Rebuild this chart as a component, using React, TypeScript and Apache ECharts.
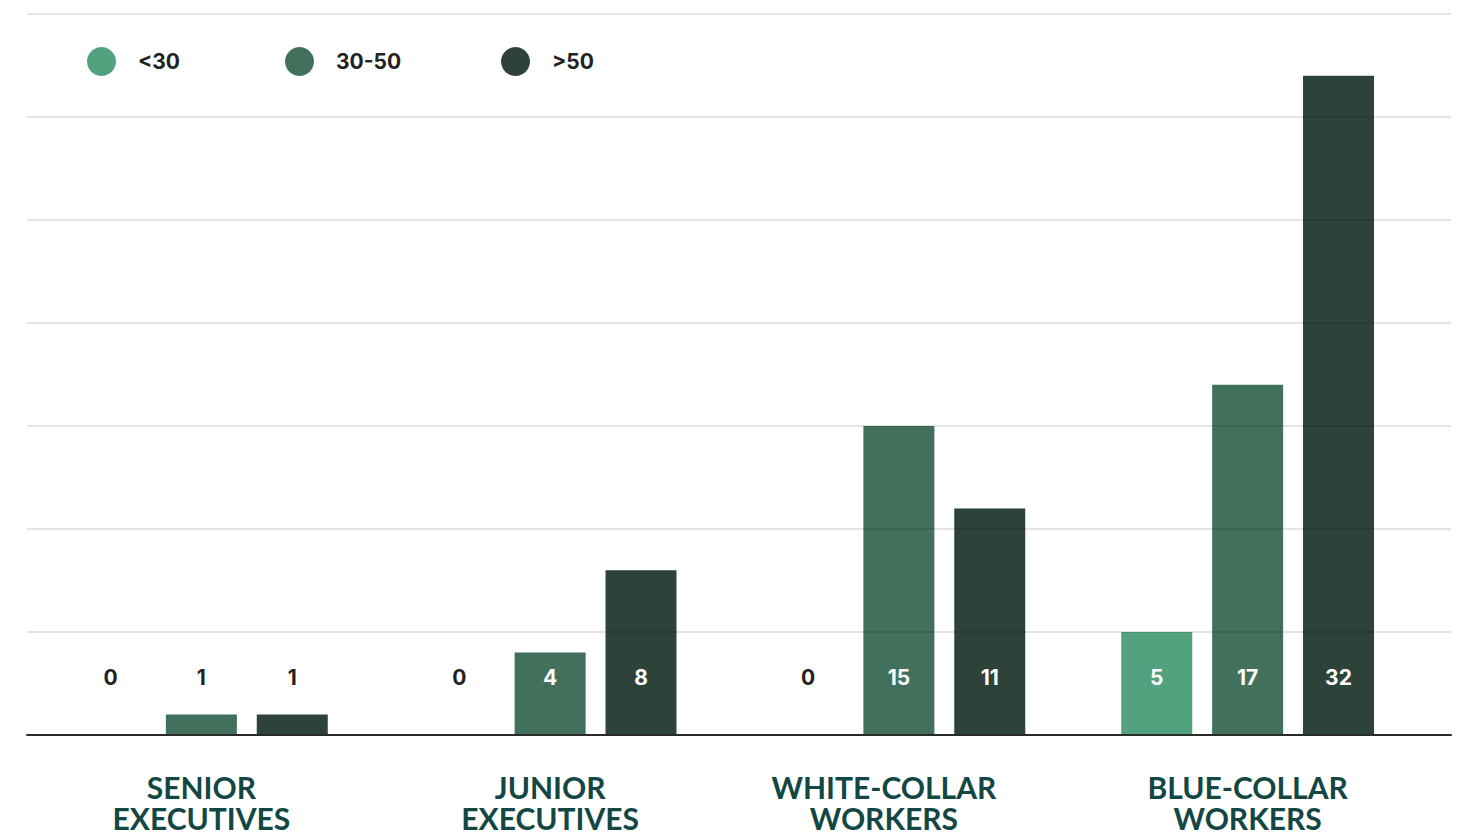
import React, { useEffect, useRef } from "react";
import * as echarts from "echarts";

// Workforce by age band, per job category
const categories = [
  "SENIOR\nEXECUTIVES",
  "JUNIOR\nEXECUTIVES",
  "WHITE-COLLAR\nWORKERS",
  "BLUE-COLLAR\nWORKERS",
];
const seriesNames = ["<30", "30-50", ">50"];
const under30 = [0, 0, 0, 5];
const from30to50 = [1, 4, 15, 17];
const over50 = [1, 8, 11, 32];
const yMax = 35;
const yStep = 5;

const barColors = ["#52a17f", "#41715d", "#2d433a"];
const LABEL_FONT = "Lato, 'Noto Sans', sans-serif";
const NUMBER_FONT = "Inter, 'Noto Sans', sans-serif";

// value labels sit on a common line near the baseline; short bars get dark text
const toItems = (values: number[]) =>
  values.map((v) => ({
    value: v,
    label: { color: v >= 3 ? "#ffffff" : "#222222" },
  }));

export default function App() {
  const ref = useRef<HTMLDivElement>(null);

  useEffect(() => {
    document.body.style.margin = "0";
    if (!ref.current) return;
    const chart = echarts.init(ref.current, undefined, { renderer: "svg" });

    const seriesData = [under30, from30to50, over50];
    const legendLefts = [87, 285, 501];

    chart.setOption({
      animation: false,
      backgroundColor: "#ffffff",
      legend: seriesNames.map((name, i) => ({
        data: [name],
        left: legendLefts[i],
        top: 47,
        padding: 0,
        icon: "circle",
        itemWidth: 29,
        itemHeight: 29,
        selectedMode: false,
        textStyle: {
          fontFamily: NUMBER_FONT,
          fontWeight: "bold",
          fontSize: 21,
          color: "#222222",
          padding: [0, 0, 0, 17],
        },
      })),
      grid: [
        // full-width frame: gridlines and baseline
        { left: 27, right: 7, top: 14, bottom: 99, containLabel: false },
        // bar area
        { left: 27, width: 1395, top: 14, bottom: 99, containLabel: false },
      ],
      xAxis: [
        {
          gridIndex: 0,
          type: "value",
          min: 0,
          max: 1,
          z: 5,
          axisLabel: { show: false },
          axisTick: { show: false },
          splitLine: { show: false },
          axisLine: { show: true, lineStyle: { color: "#2a2a2a", width: 2 } },
        },
        {
          gridIndex: 1,
          type: "category",
          data: categories.map((c, i) =>
            i === 2 ? { value: c, textStyle: { padding: [0, 30, 0, 0] } } : c
          ),
          axisLine: { show: false },
          axisTick: { show: false },
          axisLabel: {
            interval: 0,
            margin: 36,
            fontFamily: LABEL_FONT,
            fontWeight: "bold",
            fontSize: 30,
            lineHeight: 31,
            color: "#134743",
            verticalAlign: "top",
          },
        },
      ],
      yAxis: [
        {
          gridIndex: 0,
          type: "value",
          min: 0,
          max: yMax,
          interval: yStep,
          z: 5,
          axisLabel: { show: false },
          axisLine: { show: false },
          axisTick: { show: false },
          splitLine: { show: true, lineStyle: { color: "rgba(0,0,0,0.14)", width: 1.5 } },
        },
        {
          gridIndex: 1,
          type: "value",
          min: 0,
          max: yMax,
          interval: yStep,
          show: false,
          splitLine: { show: false },
        },
      ],
      series: seriesNames.map((name, i) => ({
        name,
        type: "bar",
        xAxisIndex: 1,
        yAxisIndex: 1,
        barWidth: 71,
        barGap: "28%",
        itemStyle: { color: barColors[i] },
        label: {
          show: true,
          position: "insideBottom",
          distance: 47,
          fontFamily: NUMBER_FONT,
          fontWeight: "bold",
          fontSize: 21,
          lineHeight: 21,
        },
        data: toItems(seriesData[i]),
      })),
    });

    return () => chart.dispose();
  }, []);

  return <div ref={ref} style={{ width: 1458, height: 834 }} />;
}
